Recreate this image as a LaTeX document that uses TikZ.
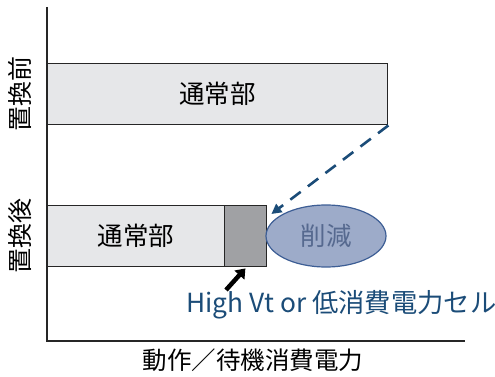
\documentclass[tikz,border=0pt]{standalone}
\usepackage{fontspec}
\setmainfont{Noto Sans CJK JP}
\usetikzlibrary{arrows.meta}
\definecolor{barfill}{HTML}{E6E7E9}
\definecolor{darkfill}{HTML}{A0A1A4}
\definecolor{ellfill}{HTML}{9DABC9}
\definecolor{elledge}{HTML}{3D5E95}
\definecolor{elltext}{HTML}{56698F}
\definecolor{navy}{HTML}{1B4C78}
\begin{document}
\begin{tikzpicture}[x=1pt,y=-1pt,
  bar/.style={draw=black!85,line width=1.4pt,fill=barfill,inner sep=0pt},
  lbl/.style={font=\fontsize{25.5}{27}\selectfont},
  ]
\useasboundingbox (0,0) rectangle (495,377);
% axes
\coordinate (ytop) at (47,7);
\coordinate (orig) at (47,341);
\coordinate (xend) at (465,341);
\draw[line width=1.8pt,black!85] (ytop) -- (orig) -- (xend);
% bars
\node[bar,minimum width=340pt,minimum height=61pt,anchor=north west] (top) at (47,63) {};
\node[lbl] at (top.center) {通常部};
\node[bar,minimum width=177pt,minimum height=61pt,anchor=north west] (low) at (47,205) {};
\node[lbl] at (low.center) {通常部};
\node[bar,fill=darkfill,minimum width=42pt,minimum height=61pt,anchor=north west] (dark) at (224,205) {};
% ellipse
\draw[draw=elledge,line width=1.2pt,fill=ellfill] (326,236) ellipse (60 and 31);
\node[lbl,text=elltext] (ell) at (326,236) {削減};
% dashed arrow
\draw[navy,line width=2.6pt,dash pattern=on 13pt off 9pt,-{Triangle[length=10pt,width=10pt]}] (top.south east) -- ([xshift=4pt,yshift=-9pt]dark.north east);
% black arrow
\coordinate (ba) at (226,290);
\draw[black,line width=4.5pt,-{Triangle[length=9pt,width=13pt]}] (ba) -- ([xshift=-22pt,yshift=-1pt]dark.south east);
% labels
\node[anchor=base west,text=navy,font=\fontsize{26.3}{28}\selectfont,inner sep=0pt] (hv) at (186,312) {High Vt or 低消費電力セル};
\node[font=\fontsize{24.5}{26}\selectfont] (xl) at (253,360) {動作／待機消費電力};
\node[rotate=90,font=\fontsize{25}{27}\selectfont] (y1) at (20,94) {置換前};
\node[rotate=90,font=\fontsize{25}{27}\selectfont] (y2) at (20,236) {置換後};
\end{tikzpicture}
\end{document}
